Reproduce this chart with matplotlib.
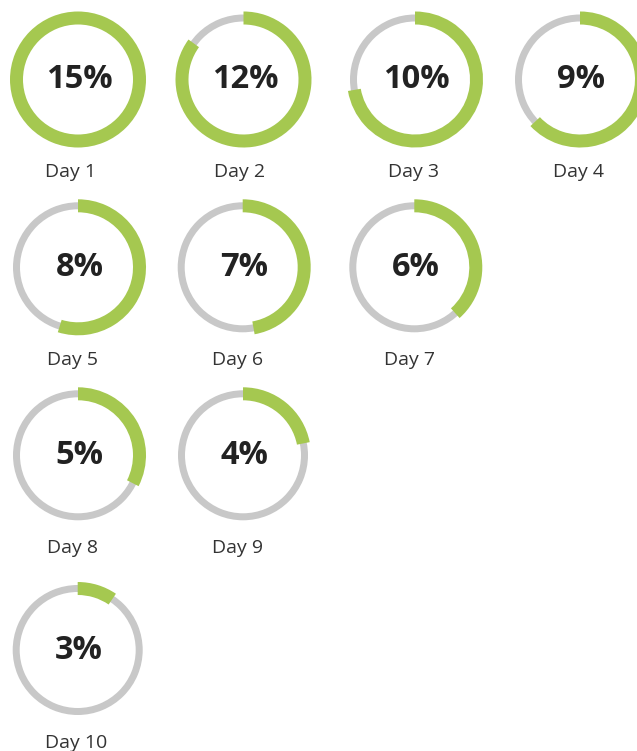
import matplotlib
matplotlib.use("Agg")
import matplotlib.pyplot as plt
import matplotlib.patches as patches

# Data
days = ['Day 1', 'Day 2', 'Day 3', 'Day 4', 'Day 5',
        'Day 6', 'Day 7', 'Day 8', 'Day 9', 'Day 10']
percents = [15, 12, 10, 9, 8, 7, 6, 5, 4, 3]
# share of the ring that is filled
fill = [1.0, 0.85, 0.723, 0.63, 0.548, 0.472, 0.384, 0.325, 0.219, 0.095]

# Layout (pixels)
ring_x = [78, 243.5, 415, 580, 78, 242.7, 414.3, 78, 243, 77.7]
ring_y = [79.5, 79.5, 79.5, 79.5, 267.3, 267.3, 267.3, 455.3, 455.3, 650]
label_x = [70.5, 240, 414, 578.5, 72.5, 237.5, 409, 72.5, 237.5, 75.8]

GREEN = '#a5c850'
GRAY = '#c8c8c8'

fig = plt.figure(figsize=(6.37, 7.51), dpi=100)
ax = fig.add_axes([0, 0, 1, 1])
ax.set_xlim(0, 637)
ax.set_ylim(751, 0)
ax.set_aspect('equal')
ax.axis('off')

for i in range(len(days)):
    cx, cy = ring_x[i], ring_y[i]
    # background ring
    ax.add_patch(patches.Wedge((cx, cy), 65, 0, 360, width=7,
                               facecolor=GRAY, edgecolor='none'))
    # progress arc, clockwise from the top (y axis is flipped)
    ax.add_patch(patches.Wedge((cx, cy), 68, -90, -90 + 360 * fill[i], width=13,
                               facecolor=GREEN, edgecolor='none'))
    ax.text(cx + 1.5, cy + 9, f'{percents[i]}%', ha='center', va='baseline',
            fontsize=23.5, fontweight='bold', color='#222222', family='Open Sans')
    ax.text(label_x[i], cy + 97.5, days[i], ha='center', va='baseline',
            fontsize=14, color='#333333', family='Open Sans')

fig.savefig('out.png', dpi=100)
